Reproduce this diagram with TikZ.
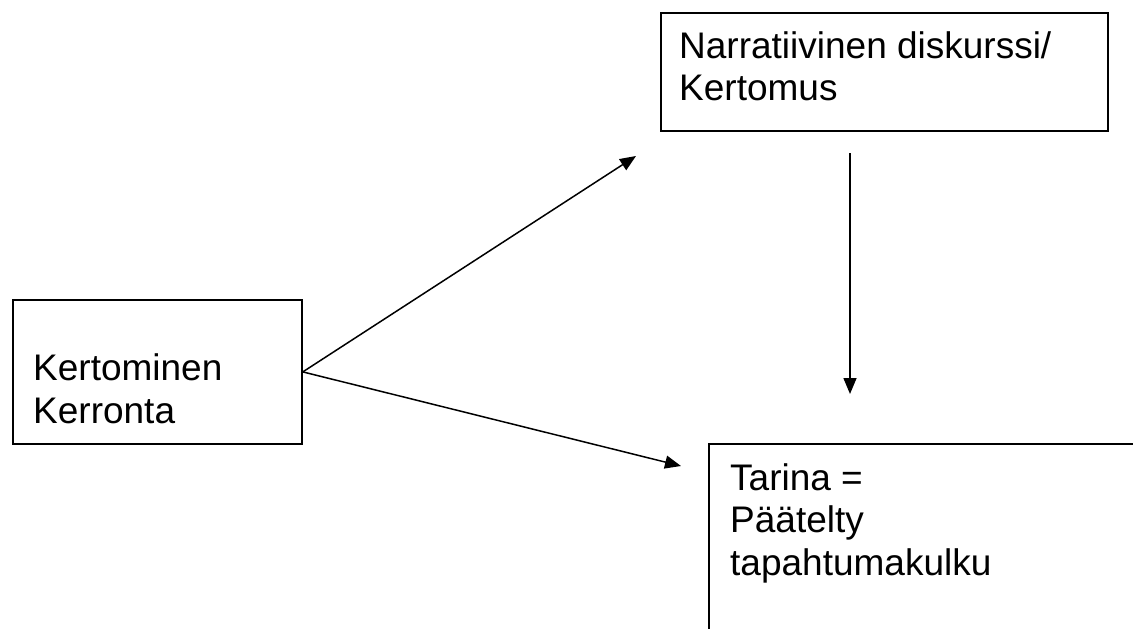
\documentclass[tikz,border=0pt]{standalone}
\usepackage{fontspec}
\setmainfont{Liberation Sans}
\usetikzlibrary{arrows.meta}
\tikzset{
  box/.style={draw=black, line width=1.8pt, rectangle, inner sep=0pt, anchor=north west},
  lbl/.style={anchor=base west, inner sep=0pt, font=\fontsize{37}{42.5}\selectfont},
  arr/.style={line width=1.5pt, -{Triangle[length=16pt,width=13pt]}}
}
\begin{document}
\begin{tikzpicture}[x=1pt,y=-1pt]
\useasboundingbox (0,0) rectangle (1133,629);
\clip (0,0) rectangle (1133,629);
% boxes
\node[box, minimum width=289pt, minimum height=144pt] (k) at (12,299) {};
\node[box, minimum width=447pt, minimum height=118pt] (n) at (660,12) {};
\node[box, minimum width=460pt, minimum height=220pt] (t) at (708,443) {};
% texts
\node[lbl] (k1) at (33,380) {Kertominen};
\node[lbl] (k2) at (33,423) {Kerronta};
\node[lbl] (n1) at (679,58) {Narratiivinen diskurssi/};
\node[lbl] (n2) at (679,100) {Kertomus};
\node[lbl] (t1) at (730,490) {Tarina =};
\node[lbl] (t2) at (730,532) {Päätelty};
\node[lbl] (t3) at (730,575) {tapahtumakulku};
% connector ends
\coordinate (a1) at (636,156);
\coordinate (a2) at (681,466);
\coordinate (vs) at (850,153);
\coordinate (ve) at (850,394);
\draw[arr] (k.east) -- (a1);
\draw[arr] (k.east) -- (a2);
\draw[arr] (vs) -- (ve);
\end{tikzpicture}
\end{document}
